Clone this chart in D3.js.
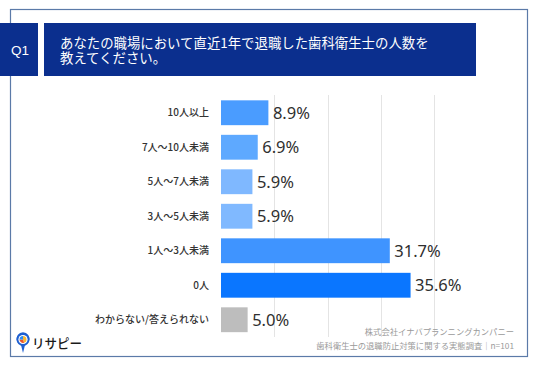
<!DOCTYPE html>
<html><head><meta charset="utf-8">
<script src="https://cdn.jsdelivr.net/npm/d3@7"></script>
<style>
html,body{margin:0;padding:0;background:#fff;}
svg{display:block;font-family:"Noto Sans CJK JP","Noto Sans",sans-serif;}
</style></head>
<body>
<script>
const categories = ["10人以上","7人～10人未満","5人～7人未満","3人～5人未満","1人～3人未満","0人","わからない/答えられない"];
const values = [8.9, 6.9, 5.9, 5.9, 31.7, 35.6, 5.0];
const barColors = ["#4a9cff","#5ea9ff","#7fb8ff","#80b9ff","#3f94ff","#0a76ff","#bdbdbd"];
const gridTicks = [10, 20, 30, 40];
const questionNo = "Q1";
const questionLines = ["あなたの職場において直近1年で退職した歯科衛生士の人数を","教えてください。"];
const sourceLines = ["株式会社イナバプランニングカンパニー","歯科衛生士の退職防止対策に関する実態調査｜n=101"];

const W = 536, H = 371;
const svg = d3.select("body").append("svg").attr("width", W).attr("height", H);

// outer frame
svg.append("rect").attr("x", 10.5).attr("y", 9.5).attr("width", 517).attr("height", 347)
  .attr("fill", "#fff").attr("stroke", "#5b7aa8").attr("stroke-width", 1.2);

// header
const navy = "#0b2f8e";
svg.append("rect").attr("x", 0).attr("y", 23).attr("width", 38).attr("height", 53).attr("fill", navy);
svg.append("rect").attr("x", 44).attr("y", 23).attr("width", 432).attr("height", 53).attr("fill", navy);
svg.append("text").attr("x", 20).attr("y", 54.5).attr("text-anchor", "middle")
  .attr("fill", "#fff").attr("font-size", 13.5).attr("font-family", "'Liberation Sans', Arial, sans-serif").text(questionNo);
svg.selectAll("text.q").data(questionLines).join("text").attr("class","q")
  .attr("x", 60).attr("y", (d,i) => 47.5 + i*15.5)
  .attr("fill", "#fff").attr("font-size", 13.4).text(d => d);

// scales
const x = d3.scaleLinear().domain([0, 40]).range([221, 434]);
const y = d3.scaleBand().domain(categories).range([95.5, 337]).paddingInner(0.28).paddingOuter(0.14);

// grid
svg.append("g").selectAll("line").data(gridTicks).join("line")
  .attr("x1", d => Math.round(x(d)) + 0.5).attr("x2", d => Math.round(x(d)) + 0.5)
  .attr("y1", 95).attr("y2", 337)
  .attr("stroke", "#e4e4e4").attr("stroke-width", 1);

// bars
svg.append("g").selectAll("rect").data(values).join("rect")
  .attr("x", x(0)).attr("y", (d,i) => y(categories[i]))
  .attr("width", d => x(d) - x(0)).attr("height", y.bandwidth())
  .attr("fill", (d,i) => barColors[i]);

// category labels
svg.append("g").selectAll("text").data(categories).join("text")
  .attr("x", 209).attr("y", d => y(d) + y.bandwidth()/2 + 3.5)
  .attr("text-anchor", "end").attr("font-size", 10).attr("font-weight", 500).attr("fill", "#333")
  .text(d => d);

// value labels
svg.append("g").selectAll("text").data(values).join("text")
  .attr("x", d => x(d) + 4.5).attr("y", (d,i) => y(categories[i]) + y.bandwidth()/2 + 6.2)
  .attr("font-size", 16.5).attr("fill", "#2f2f2f").attr("font-family", "'Noto Sans', sans-serif")
  .text(d => d.toFixed(1) + "%");

// source
svg.append("g").selectAll("text").data(sourceLines).join("text")
  .attr("x", 514).attr("y", (d,i) => 335 + i*14)
  .attr("text-anchor", "end").attr("font-size", 8.3).attr("fill", "#9a9a9a")
  .text(d => d);

// logo
const lg = svg.append("g").attr("transform", "translate(23,341)");
lg.append("path").attr("d", "M0,12 L-2,4 A6.5,6.5 0 1 1 2,4 Z").attr("fill", "#1d5fd1");
lg.append("circle").attr("cx", 0).attr("cy", -1.5).attr("r", 6.5).attr("fill", "#1d5fd1");
lg.append("circle").attr("cx", 0).attr("cy", -1.5).attr("r", 4.6).attr("fill", "#fff");
lg.append("path").attr("d", d3.arc()({innerRadius:0, outerRadius:3.5, startAngle:0, endAngle:Math.PI*0.9})).attr("transform","translate(0,-1.5)").attr("fill", "#f7b733");
lg.append("path").attr("d", d3.arc()({innerRadius:0, outerRadius:3.5, startAngle:Math.PI*0.9, endAngle:Math.PI*1.5})).attr("transform","translate(0,-1.5)").attr("fill", "#e8542f");
lg.append("path").attr("d", d3.arc()({innerRadius:0, outerRadius:3.5, startAngle:Math.PI*1.5, endAngle:Math.PI*2})).attr("transform","translate(0,-1.5)").attr("fill", "#2a8df5");
svg.append("text").attr("x", 32).attr("y", 347.5).attr("font-size", 13).attr("font-weight", 500)
  .attr("fill", "#1a1a1a").attr("textLength", 50).attr("lengthAdjust", "spacingAndGlyphs").text("リサピー");
</script>
</body></html>
